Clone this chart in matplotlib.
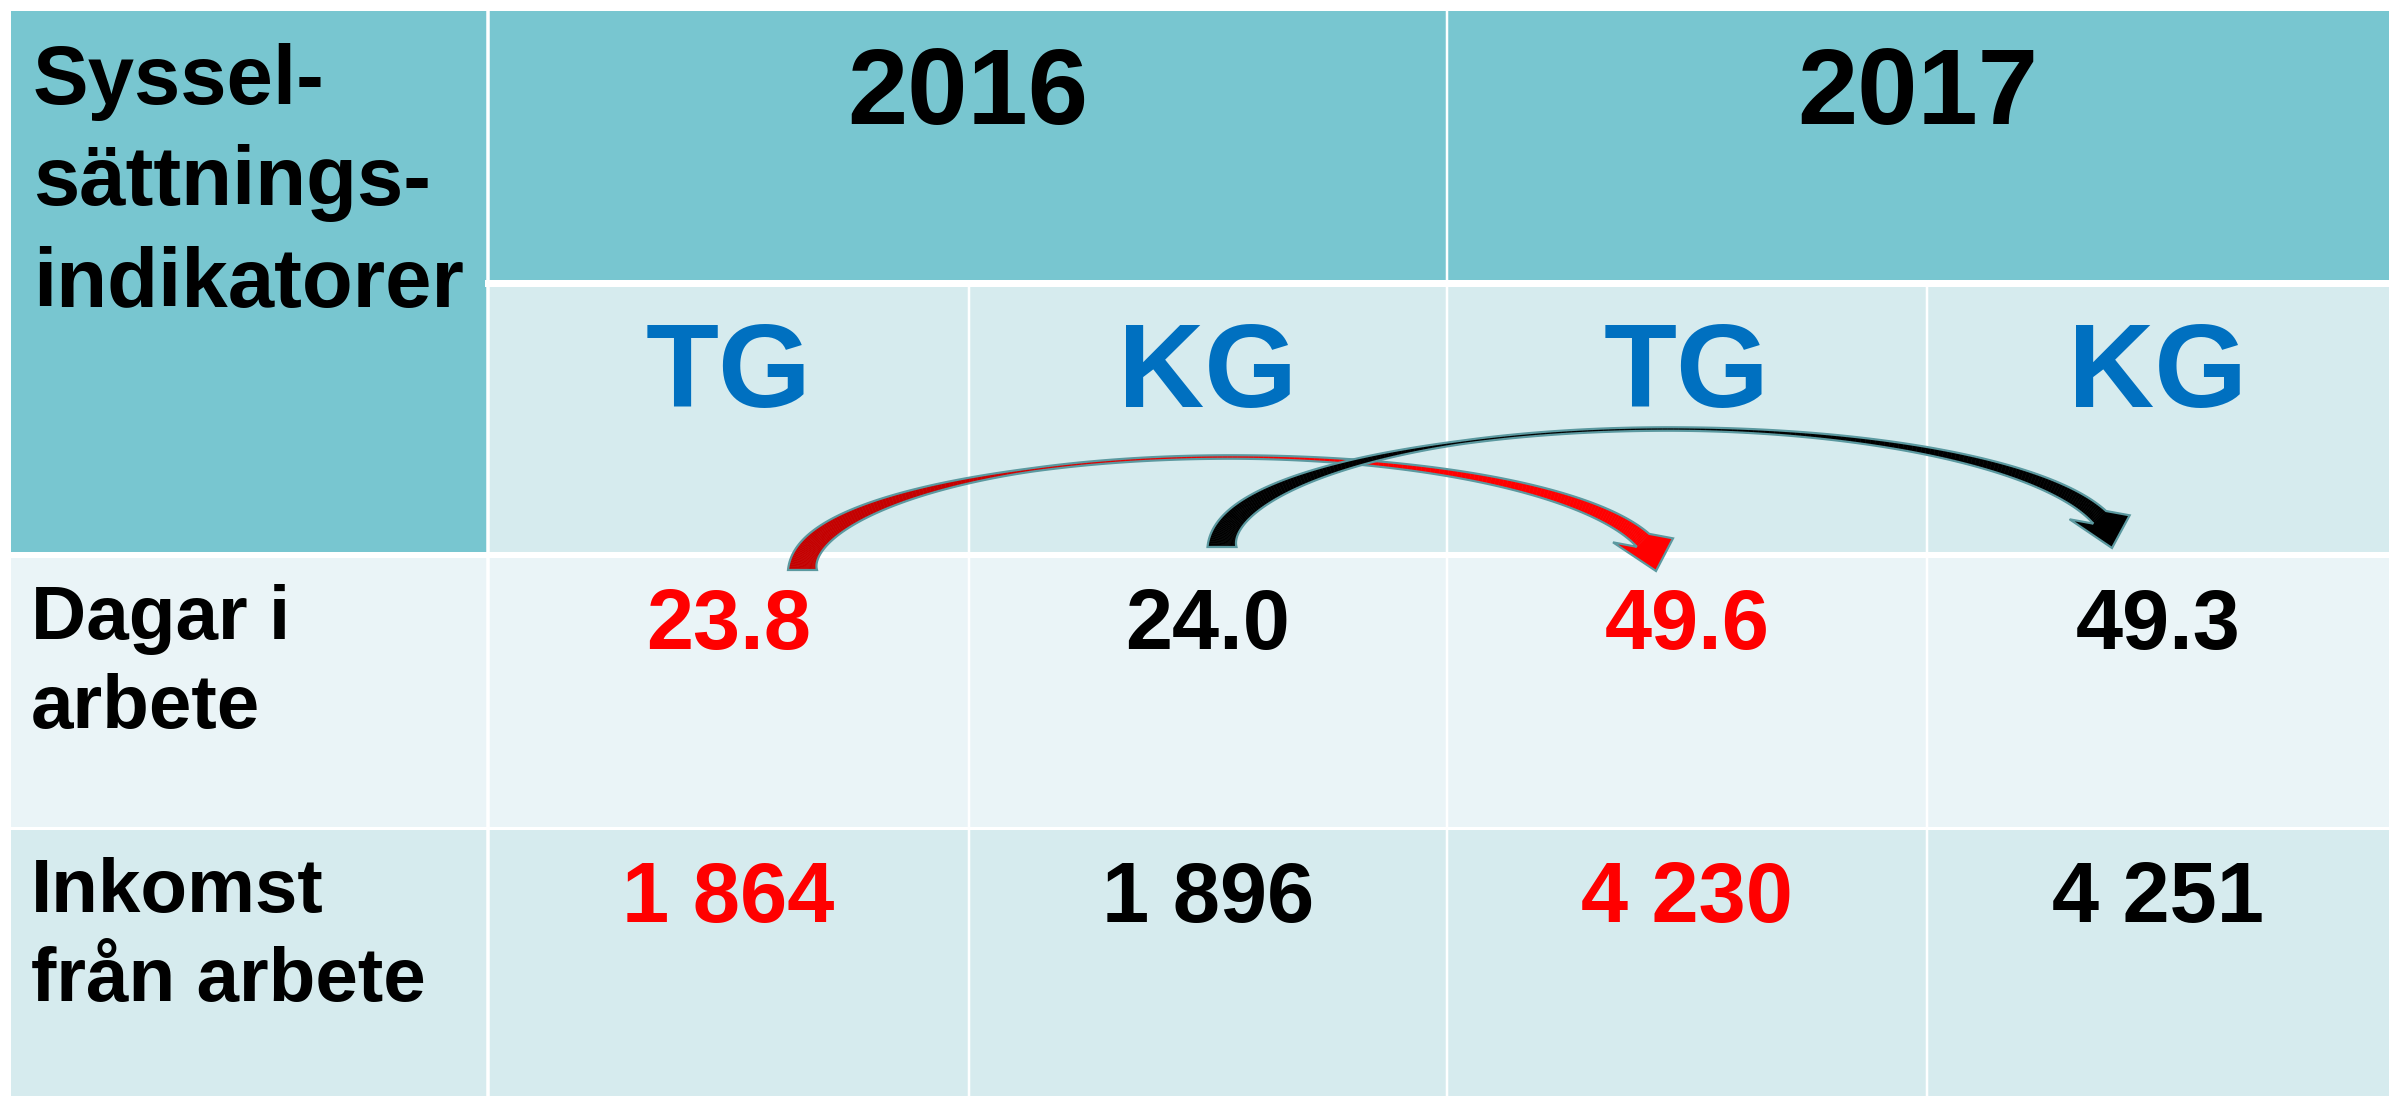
import numpy as np
import matplotlib.pyplot as plt
from matplotlib.patches import Rectangle, Polygon
import matplotlib.colors as mcolors

plt.rcParams['font.family'] = ['Liberation Sans', 'DejaVu Sans']

# table contents
corner_label = ["Syssel-", "sättnings-", "indikatorer"]
years = ["2016", "2017"]
groups = ["TG", "KG", "TG", "KG"]
row_labels = [["Dagar i", "arbete"], ["Inkomst", "från arbete"]]
dagar = [23.8, 24.0, 49.6, 49.3]
inkomst = [1864, 1896, 4230, 4251]
value_colors = ["#FF0000", "black", "#FF0000", "black"]

# colours
head_col = "#78C6D0"
sub_col = "#D6EBEE"
row_cols = ["#EAF4F7", "#D6EBEE"]
blue = "#0070C0"
teal_edge = "#5B99A0"

# layout in pixels (figure is 2389 x 1096 at dpi 100)
W, H = 2389, 1096
col_edges = [11, 488, 969, 1447, 1927, 2389]
row_edges = [11, 283, 555, 828, 1096]
px = 0.72  # points per pixel

fig = plt.figure(figsize=(W / 100, H / 100), dpi=100)
ax = fig.add_axes([0, 0, 1, 1])
ax.set_xlim(0, W)
ax.set_ylim(H, 0)
ax.axis("off")

def cell(x0, x1, y0, y1, color):
    ax.add_patch(Rectangle((x0, y0), x1 - x0, y1 - y0, facecolor=color,
                           edgecolor="none", zorder=1))

# backgrounds
cell(col_edges[0], col_edges[1], row_edges[0], row_edges[2], head_col)
cell(col_edges[1], col_edges[5], row_edges[0], row_edges[1], head_col)
cell(col_edges[1], col_edges[5], row_edges[1], row_edges[2], sub_col)
for r in range(2):
    cell(col_edges[0], col_edges[5], row_edges[2 + r], row_edges[3 + r], row_cols[r])

# white grid lines
ax.plot([col_edges[1], W], [row_edges[1]] * 2, color="white", lw=7 * px, zorder=2)
ax.plot([col_edges[0], W], [row_edges[2]] * 2, color="white", lw=6 * px, zorder=2)
ax.plot([col_edges[0], W], [row_edges[3]] * 2, color="white", lw=3 * px, zorder=2)
ax.plot([col_edges[1]] * 2, [row_edges[0], H], color="white", lw=3.5 * px, zorder=2)
ax.plot([col_edges[3]] * 2, [row_edges[0], H], color="white", lw=2.5 * px, zorder=2)
for c in (2, 4):
    ax.plot([col_edges[c]] * 2, [row_edges[1], H], color="white", lw=2.5 * px, zorder=2)

col_centers = [(col_edges[i] + col_edges[i + 1]) / 2 for i in range(1, 5)]

# corner label
for i, line in enumerate(corner_label):
    ax.text(33, row_edges[0] + 93 + i * 101.5, line, fontsize=60, fontweight="bold",
            ha="left", va="baseline", zorder=5)

# years
for i, y in enumerate(years):
    xc = (col_edges[1 + 2 * i] + col_edges[3 + 2 * i]) / 2
    ax.text(xc, row_edges[0] + 113, y, fontsize=78, fontweight="bold",
            ha="center", va="baseline", zorder=5)

# groups
for xc, g in zip(col_centers, groups):
    ax.text(xc, row_edges[1] + 124, g, fontsize=86, fontweight="bold", color=blue,
            ha="center", va="baseline", zorder=5)

# row labels and values
rows = [[f"{v:.1f}" for v in dagar],
        [f"{v:,}".replace(",", " ") for v in inkomst]]
for r in range(2):
    top = row_edges[2 + r]
    for i, line in enumerate(row_labels[r]):
        ax.text(31, top + 84 + i * 89, line, fontsize=55, fontweight="bold",
                ha="left", va="baseline", zorder=5)
    for xc, s, c in zip(col_centers, rows[r], value_colors):
        ax.text(xc, top + 94, s, fontsize=61, fontweight="bold", color=c,
                ha="center", va="baseline", zorder=5)


def curved_arrow(x0, x1, y0, rise, w0, w1, c0, c1, z):
    cx = (x0 + x1) / 2
    a = (x1 - x0) / 2
    b = rise
    th_h = 30 / b
    th = np.linspace(np.pi, th_h, 240)
    P = np.column_stack([cx + a * np.cos(th), y0 - b * np.sin(th)])
    d = np.column_stack([a * np.sin(th), b * np.cos(th)])
    d /= np.linalg.norm(d, axis=1)[:, None]
    n = np.column_stack([-d[:, 1], d[:, 0]])
    t = (np.pi - th) / (np.pi - th_h)
    wmin = 3.5
    w = (wmin + (w0 - wmin) * np.clip(1 - t / 0.38, 0, 1) ** 1.4
         + (w1 - wmin) * np.clip((t - 0.55) / 0.45, 0, 1) ** 1.6)
    left = P + n * w[:, None] / 2
    right = P - n * w[:, None] / 2
    B = P[-1]
    tip = np.array([cx + a - 2, y0 + 1])
    # arrow head base is nearly horizontal, tip a bit to the right
    wl = B + np.array([-30, 2])
    wr = B + np.array([30, -2])
    rgb0 = np.array(mcolors.to_rgb(c0))
    rgb1 = np.array(mcolors.to_rgb(c1))
    for i in range(len(th) - 1):
        f = np.clip((t[i] - 0.3) / 0.3, 0, 1)
        col = rgb0 * (1 - f) + rgb1 * f
        ax.add_patch(Polygon([left[i], left[i + 1], right[i + 1], right[i]],
                             facecolor=col, edgecolor=col, lw=0.4, zorder=z))
    ax.add_patch(Polygon([left[-1], wl, tip, wr, right[-1]], facecolor=c1,
                         edgecolor=c1, lw=0.4, zorder=z))
    outline = np.vstack([left, wl, tip, wr, right[::-1]])
    ax.add_patch(Polygon(outline, closed=True, fill=False, edgecolor=teal_edge,
                         lw=2.2 * px, joinstyle="miter", zorder=z + 0.5))


# arrows linking 2016 values to 2017 values in "Dagar i arbete"
curved_arrow(col_centers[0] + 74, col_centers[2] - 29, 570, 113, 29, 18,
             "#C40000", "#FF0000", 6)
curved_arrow(col_centers[1] + 14, col_centers[3] - 44, 547, 118, 29, 18,
             "black", "black", 8)

fig.savefig("out.png", dpi=100)
